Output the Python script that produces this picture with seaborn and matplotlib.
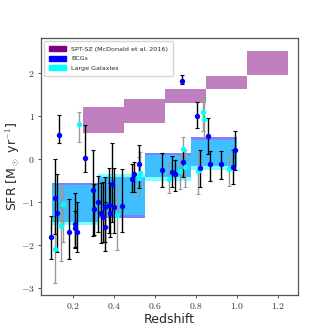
import numpy as np
import matplotlib
matplotlib.use("Agg")
import matplotlib.pyplot as plt
from matplotlib.patches import Patch
from matplotlib.ticker import FuncFormatter
import seaborn as sns

# --- data ---
# SPT-SZ bins (McDonald et al. 2016)
spt_z_lo = [0.25, 0.45, 0.65, 0.85, 1.05]
spt_z_hi = [0.45, 0.65, 0.85, 1.05, 1.25]
spt_sfr_lo = [0.60, 0.84, 1.30, 1.63, 1.95]
spt_sfr_hi = [1.20, 1.40, 1.63, 1.93, 2.51]

# redshift bins for our samples
bin_edges = [0.1, 0.325, 0.55, 0.775, 1.0]
bcg_box_lo = [-1.46, -1.36, -0.41, -0.16]
bcg_box_hi = [-0.55, -0.42, 0.15, 0.50]
lg_box_lo = [-1.53, -1.30, -0.50, -0.26]
lg_box_hi = [-0.60, -0.35, 0.10, 0.44]

# BCGs
bcg_z = [0.096, 0.112, 0.123, 0.132, 0.182, 0.211, 0.211, 0.221, 0.259, 0.300,
         0.302, 0.325, 0.338, 0.348, 0.356, 0.356, 0.376, 0.382, 0.392, 0.400,
         0.440, 0.490, 0.500, 0.520, 0.634, 0.685, 0.700, 0.733, 0.738, 0.806,
         0.820, 0.860, 0.868, 0.920, 0.982, 0.989]
bcg_sfr = [-1.82, -0.90, -1.26, 0.56, -1.70, -1.50, -1.60, -1.70, 0.03, -0.73,
           -1.17, -1.00, -1.26, -1.34, -1.12, -1.59, -1.07, -1.26, -0.57, -1.12,
           -1.09, -0.47, -0.36, -0.12, -0.26, -0.31, -0.35, 1.81, -0.07, 1.01,
           -0.20, 0.53, -0.12, -0.12, -0.18, 0.22]
bcg_err_lo = [0.50, 0.85, 0.90, 0.20, 0.63, 0.57, 0.45, 0.46, 0.34, 1.05,
              0.60, 0.70, 0.70, 0.60, 0.80, 0.55, 0.65, 0.55, 0.90, 0.60,
              0.60, 0.30, 0.40, 0.55, 0.38, 0.33, 0.39, 0.07, 0.34, 0.30,
              0.45, 0.42, 0.38, 0.34, 0.40, 0.48]
bcg_err_hi = [0.50, 0.90, 0.90, 0.46, 0.76, 0.72, 0.40, 0.71, 0.75, 0.93,
              0.60, 0.60, 0.70, 0.80, 0.70, 0.60, 0.85, 0.70, 0.94, 0.90,
              0.85, 0.35, 0.30, 0.45, 0.39, 0.39, 0.33, 0.15, 0.30, 0.31,
              0.40, 0.43, 0.31, 0.31, 0.38, 0.43]

# Large galaxies
lg_z = [0.112, 0.141, 0.153, 0.231, 0.415, 0.520, 0.525, 0.668, 0.720, 0.738,
        0.745, 0.810, 0.833, 0.841, 0.960]
lg_sfr = [-2.08, -1.55, -1.05, 0.81, -1.30, -0.45, -0.33, -0.46, -0.29, 0.23,
          -0.19, -0.27, 1.10, 0.92, -0.24]
lg_err_lo = [0.81, 0.83, 0.87, 0.41, 0.82, 0.40, 0.35, 0.34, 0.40, 0.55,
             0.45, 0.55, 0.45, 0.40, 0.38]
lg_err_hi = [0.75, 0.90, 0.47, 0.27, 0.70, 0.50, 0.50, 0.36, 0.35, 0.29,
             0.40, 0.40, 0.37, 0.53, 0.35]

# --- plotting ---
sns.set_theme(style="ticks")
plt.rcParams["font.family"] = ["DejaVu Sans"]
plt.rcParams["mathtext.fontset"] = "cm"

fig = plt.figure(figsize=(3.32, 3.32), dpi=100)
ax = fig.add_axes([0.1235, 0.1114, 0.7741, 0.7741])

# SPT-SZ boxes
ax.bar(spt_z_lo, np.subtract(spt_sfr_hi, spt_sfr_lo), bottom=spt_sfr_lo,
       width=np.subtract(spt_z_hi, spt_z_lo), align="edge",
       color="purple", alpha=0.5, linewidth=0, zorder=1)

# binned boxes: blue first, cyan over it
widths = np.diff(bin_edges)
ax.bar(bin_edges[:-1], np.subtract(bcg_box_hi, bcg_box_lo), bottom=bcg_box_lo,
       width=widths, align="edge", color="blue", alpha=0.5, linewidth=0, zorder=1)
ax.bar(bin_edges[:-1], np.subtract(lg_box_hi, lg_box_lo), bottom=lg_box_lo,
       width=widths, align="edge", color="cyan", alpha=0.5, linewidth=0, zorder=1)

# error bars
ax.errorbar(lg_z, lg_sfr, yerr=[lg_err_lo, lg_err_hi], fmt="none",
            ecolor="#999999", elinewidth=1.0, capsize=1.6, capthick=0.8, zorder=2)
ax.errorbar(bcg_z, bcg_sfr, yerr=[bcg_err_lo, bcg_err_hi], fmt="none",
            ecolor="black", elinewidth=1.0, capsize=1.6, capthick=0.8, zorder=2)

# points
sns.scatterplot(x=lg_z, y=lg_sfr, color="cyan", s=15, linewidth=0, ax=ax, zorder=3)
sns.scatterplot(x=bcg_z, y=bcg_sfr, color="blue", s=15, linewidth=0, ax=ax, zorder=4)

ax.set_xlim(0.045, 1.297)
ax.set_ylim(-3.16, 2.81)
ax.set_xticks([0.2, 0.4, 0.6, 0.8, 1.0, 1.2])
ax.set_yticks([-3, -2, -1, 0, 1, 2])
ax.xaxis.set_major_formatter(FuncFormatter(lambda v, p: r"$%.1f$" % v))
ax.yaxis.set_major_formatter(FuncFormatter(lambda v, p: r"$%d$" % v))
ax.tick_params(labelsize=7, length=2.5, width=0.6, colors="#333333", pad=2)
for s in ax.spines.values():
    s.set_color("#555555")
    s.set_linewidth(0.9)

ax.set_xlabel("Redshift", fontsize=9, labelpad=1)
ax.set_ylabel(r"SFR [M$_\odot$ yr$^{-1}$]", fontsize=9)
ax.yaxis.set_label_coords(-0.075, 0.5)

handles = [Patch(color="purple", label="SPT-SZ (McDonald et al. 2016)"),
           Patch(color="blue", label="BCGs"),
           Patch(color="cyan", label="Large Galaxies")]
ax.legend(handles=handles, loc="upper left", fontsize=4.6, handlelength=2.6,
          handleheight=0.8, frameon=True, borderpad=0.8, labelspacing=0.6)

fig.savefig("out.png", dpi=100)
